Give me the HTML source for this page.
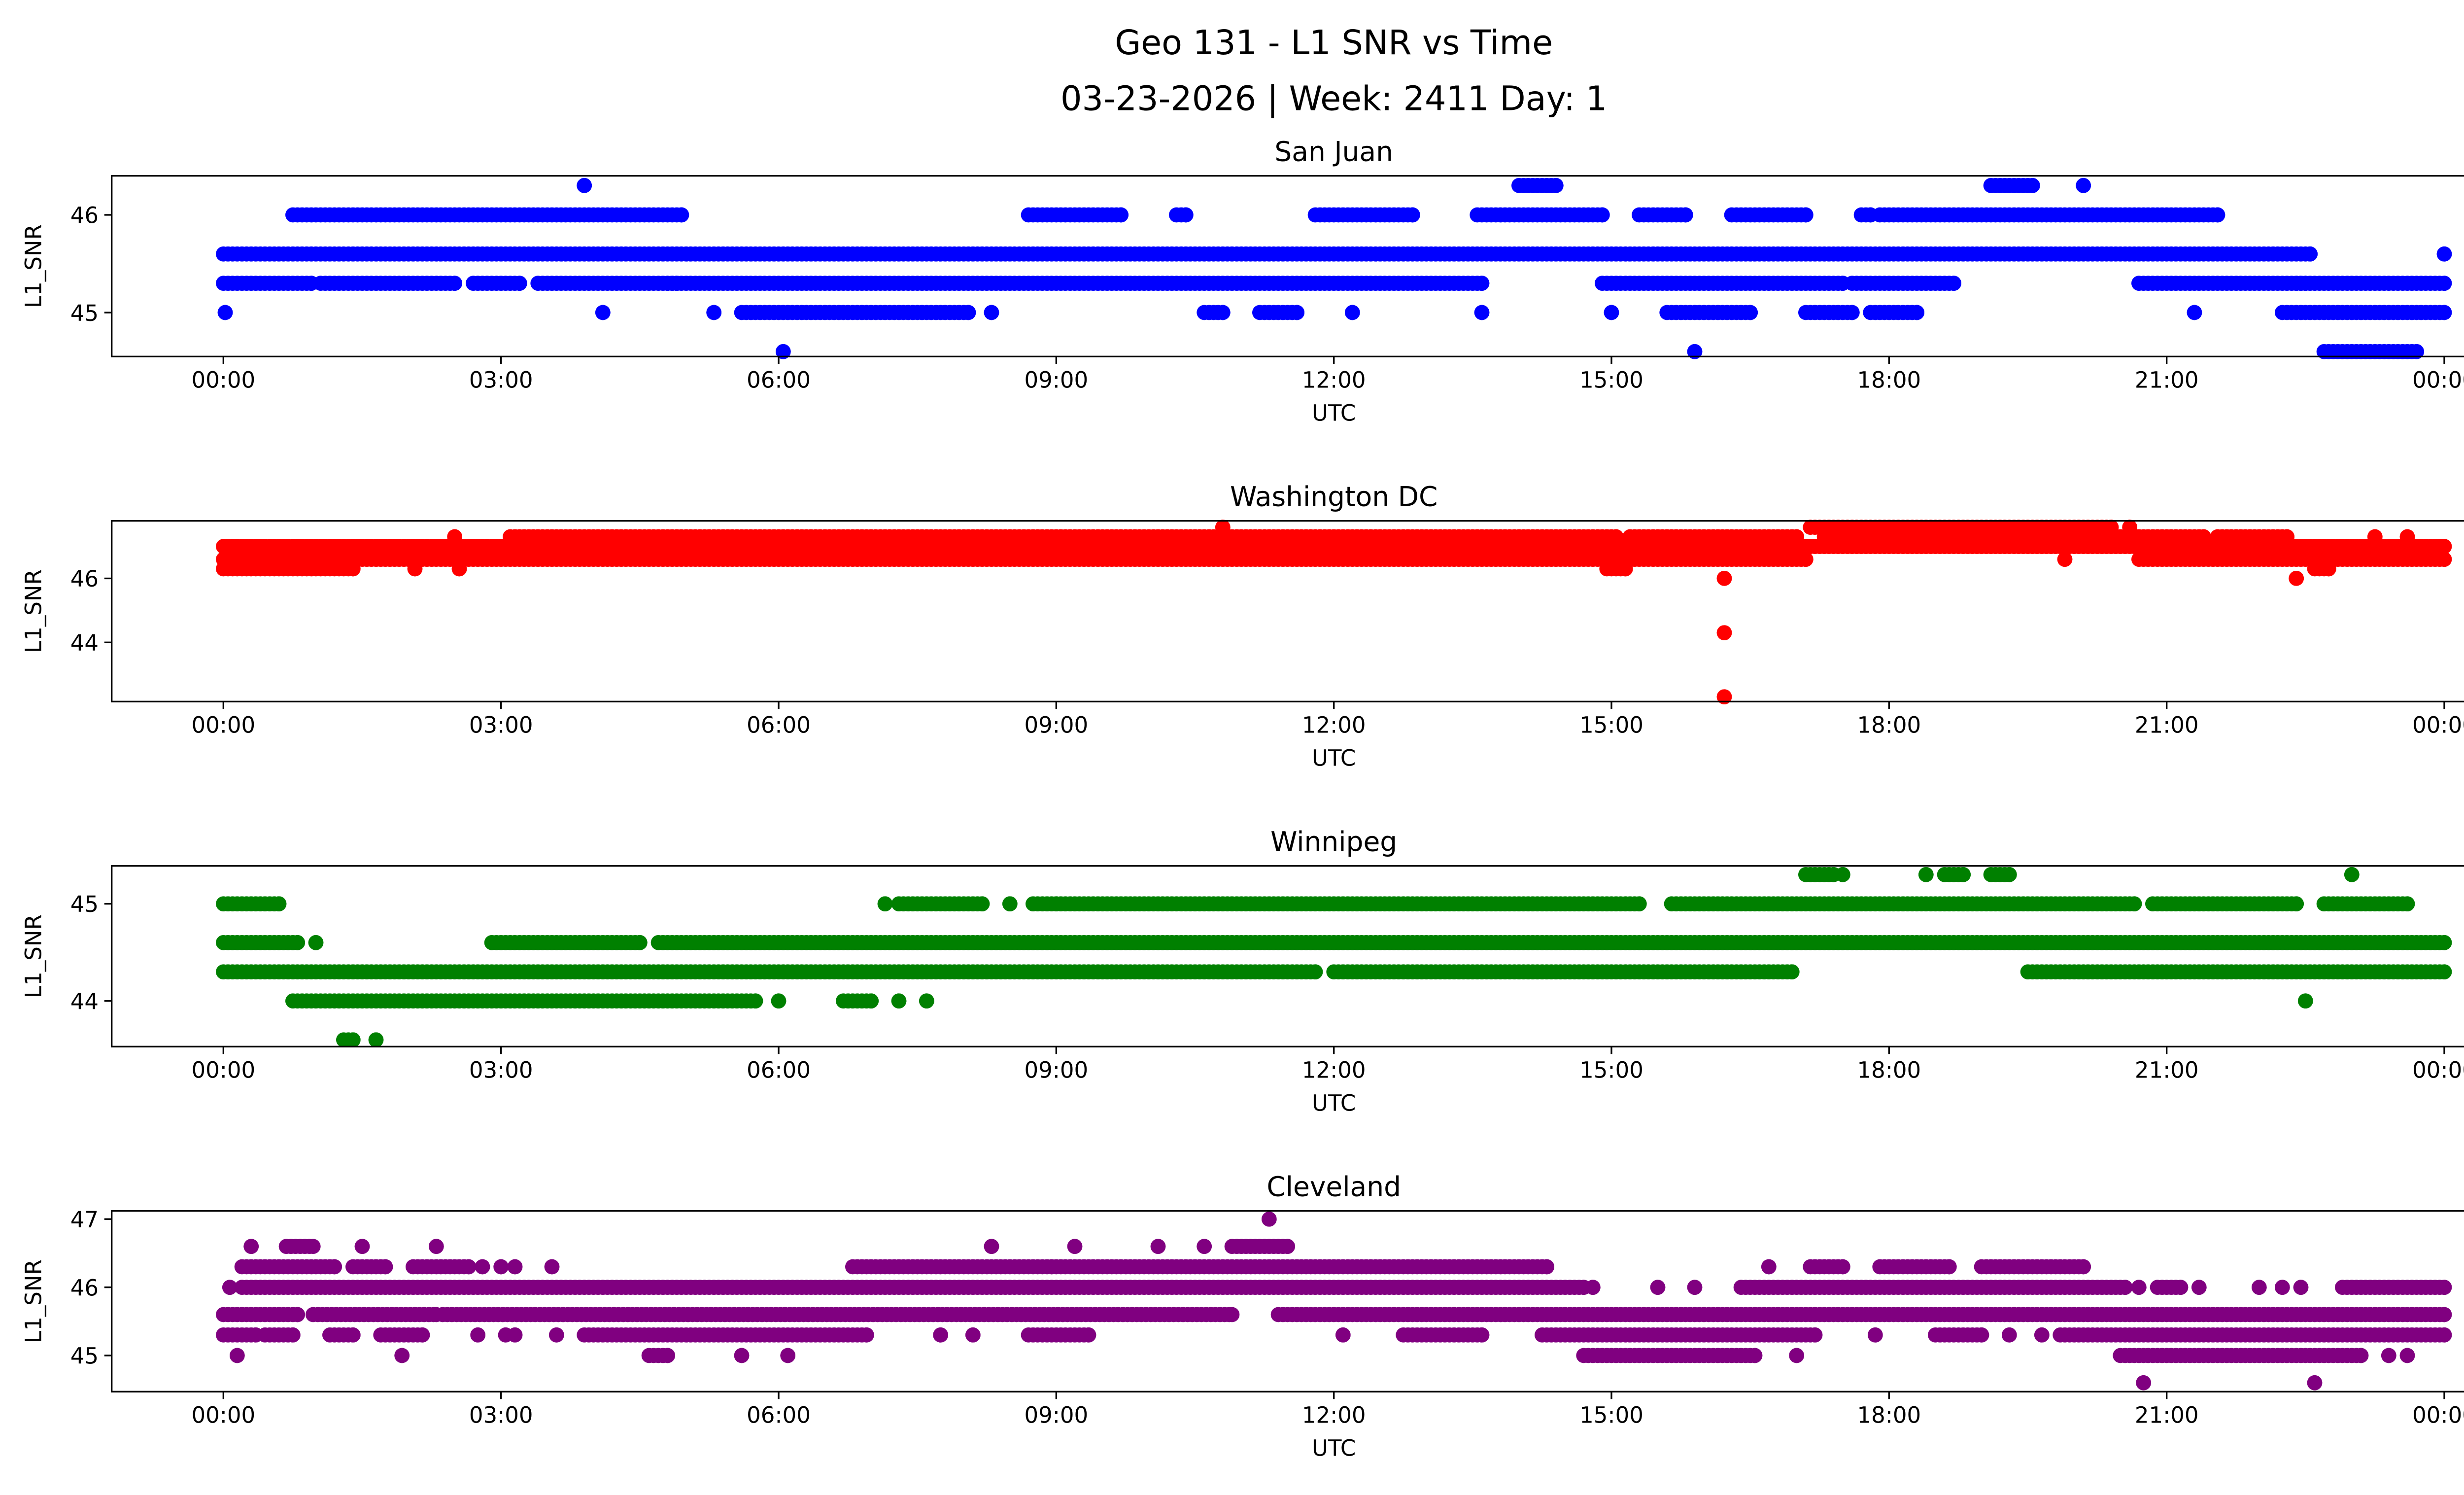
<!DOCTYPE html>
<html><head><meta charset="utf-8"><style>
html,body{margin:0;padding:0;background:#fff;overflow:hidden}
svg{display:block}
text{font-family:"DejaVu Sans","Liberation Sans",sans-serif;fill:#000}
</style></head><body>
<svg id="fig" width="5225" height="3033" viewBox="0 0 1567.5 909.9" xmlns="http://www.w3.org/2000/svg">
<rect width="1567.5" height="909.9" fill="#fff"/>
<text x="812" y="33" font-size="20.5" text-anchor="middle">Geo 131 - L1 SNR vs Time</text>
<text x="812" y="67" font-size="20.5" text-anchor="middle">03-23-2026 | Week: 2411 Day: 1</text>
<g id="plots"></g>
</svg>
<script>
// Runs: [level, startHour, endHour]
const sanJuanRuns = [[45.6,0,22.55],[45.6,24,24],[45.3,0,0.95],[45.3,1.05,2.5],[45.3,2.7,3.2],[45.3,3.4,4.9],[45.3,4.8,13.6],[45.3,14.9,17.5],[45.3,17.6,18.7],[45.3,20.7,22.5],[45.3,22.4,24],
 [46.0,0.75,4.95],[46.0,8.7,9.7],[46.0,10.3,10.4],[46.0,11.8,12.85],[46.0,13.55,14.9],[46.0,15.3,15.8],[46.0,16.3,17.1],[46.0,17.7,17.8],[46.0,17.9,21.55],
 [45.0,0.02,0.02],[45.0,4.1,4.1],[45.0,5.3,5.3],[45.0,5.6,8.05],[45.0,8.3,8.3],[45.0,10.6,10.8],[45.0,11.2,11.6],[45.0,12.2,12.2],[45.0,13.6,13.6],[45.0,15.0,15.0],[45.0,15.6,16.5],[45.0,17.1,17.6],[45.0,17.8,18.3],[45.0,21.3,21.3],[45.0,22.25,24],
 [44.6,6.05,6.05],[44.6,15.9,15.9],[44.6,22.7,23.7],[46.3,3.9,3.9],[46.3,14.0,14.4],[46.3,19.1,19.55],[46.3,20.1,20.1]];
const washingtonRuns = [[47.6,10.8,10.8],[47.6,17.15,20.4],[47.6,20.6,20.6],
 [47.3,2.5,2.5],[47.3,3.1,15.05],[47.3,15.2,17.0],[47.3,17.3,21.4],[47.3,21.55,22.3],[47.3,23.25,23.25],[47.3,23.6,23.6],
 [47.0,0,24],[46.6,0,17.1],[46.6,19.9,19.9],[46.6,20.7,24],
 [46.3,0,1.4],[46.3,2.07,2.07],[46.3,2.55,2.55],[46.3,14.95,15.15],[46.3,22.6,22.75],
 [46.0,16.22,16.22],[46.0,22.4,22.4],[44.3,16.22,16.22],[42.3,16.22,16.22]];
const winnipegRuns = [[45.0,0,0.6],[45.0,7.15,7.15],[45.0,7.3,8.2],[45.0,8.5,8.5],[45.0,8.75,9.0],[45.0,9.05,15.3],[45.0,15.65,20.65],[45.0,20.85,22.4],[45.0,22.7,23.6],
 [44.6,0,0.8],[44.6,1.0,1.0],[44.6,2.9,4.5],[44.6,4.7,24],[44.3,0,11.8],[44.3,12.0,16.95],[44.3,19.5,24],
 [44.0,0.75,5.75],[44.0,6.0,6.0],[44.0,6.7,7.0],[44.0,7.3,7.3],[44.0,7.6,7.6],[44.0,22.5,22.5],[43.6,1.3,1.4],[43.6,1.65,1.65],
 [45.3,17.1,17.4],[45.3,17.5,17.5],[45.3,18.4,18.4],[45.3,18.6,18.8],[45.3,19.1,19.3],[45.3,23.0,23.0]];
const clevelandRuns = [[47.0,11.3,11.3],
 [46.6,0.3,0.3],[46.6,0.68,0.97],[46.6,1.5,1.5],[46.6,2.3,2.3],[46.6,8.3,8.3],[46.6,9.2,9.2],[46.6,10.1,10.1],[46.6,10.6,10.6],[46.6,10.9,11.5],
 [46.3,0.2,1.2],[46.3,1.4,1.75],[46.3,2.05,2.65],[46.3,2.8,2.8],[46.3,3.0,3.0],[46.3,3.15,3.15],[46.3,3.55,3.55],[46.3,6.8,8.95],[46.3,9.0,14.3],[46.3,16.7,16.7],[46.3,17.15,17.5],[46.3,17.9,18.65],[46.3,19.0,20.1],
 [46.0,0.07,0.07],[46.0,0.2,14.7],[46.0,14.8,14.8],[46.0,15.5,15.5],[46.0,15.9,15.9],[46.0,16.4,20.55],[46.0,20.7,20.7],[46.0,20.9,21.15],[46.0,21.35,21.35],[46.0,22.0,22.0],[46.0,22.25,22.25],[46.0,22.45,22.45],[46.0,22.9,24],
 [45.6,0,0.8],[45.6,0.97,2.3],[45.6,2.37,10.9],[45.6,11.4,24],
 [45.3,0,0.35],[45.3,0.45,0.75],[45.3,1.15,1.4],[45.3,1.7,2.15],[45.3,2.75,2.75],[45.3,3.05,3.05],[45.3,3.15,3.15],[45.3,3.6,3.6],[45.3,3.9,6.95],[45.3,7.75,7.75],[45.3,8.1,8.1],[45.3,8.7,9.35],[45.3,12.1,12.1],[45.3,12.75,13.6],[45.3,14.25,17.2],[45.3,17.85,17.85],[45.3,18.5,19.0],[45.3,19.3,19.3],[45.3,19.65,19.65],[45.3,19.85,24],
 [45.0,0.15,0.15],[45.0,1.93,1.93],[45.0,4.6,4.8],[45.0,5.6,5.6],[45.0,6.1,6.1],[45.0,14.7,16.55],[45.0,17.0,17.0],[45.0,20.5,23.1],[45.0,23.4,23.4],[45.0,23.6,23.6],
 [44.6,20.75,20.75],[44.6,22.6,22.6]];

const panels = [
 {name:'San Juan',runs:sanJuanRuns,color:'#0000ff',top:107,ymin:44.55,ymax:46.4,ticks:[45,46]},
 {name:'Washington DC',runs:washingtonRuns,color:'#ff0000',top:317,ymin:42.15,ymax:47.8,ticks:[44,46]},
 {name:'Winnipeg',runs:winnipegRuns,color:'#008000',top:527,ymin:43.53,ymax:45.39,ticks:[44,45]},
 {name:'Cleveland',runs:clevelandRuns,color:'#800080',top:737,ymin:44.47,ymax:47.12,ticks:[45,46,47]}
];
const xTickLabels = ['00:00','03:00','06:00','09:00','12:00','15:00','18:00','21:00','00:00'];
const NS='http://www.w3.org/2000/svg';
const L=68,R=1555,H=110;
const xs=h=>136+h*(1488-136)/24;
function mk(tag,attrs,parent){const e=document.createElementNS(NS,tag);for(const k in attrs)e.setAttribute(k,attrs[k]);parent.appendChild(e);return e;}
const root=document.getElementById('plots');
panels.forEach((p,i)=>{
 const g=mk('g',{},root);
 
 
 const ys=v=>p.top+H-(v-p.ymin)/(p.ymax-p.ymin)*H;
 const t=mk('text',{x:812,y:p.top-9,'font-size':16.5,'text-anchor':'middle'},g);t.textContent=p.name;
 
 
 const cg=mk('g',{fill:p.color},g);
 
 
 p.runs.forEach(r=>{
  const y=ys(r[0]);
  for(let h=r[1];h<=r[2]+1e-9;h+=0.05){mk('circle',{cx:xs(h).toFixed(1),cy:y.toFixed(1),r:4.6},cg);}
  mk('circle',{cx:xs(r[2]).toFixed(1),cy:y.toFixed(1),r:4.6},cg);
 });
 const fr=mk('rect',{x:L,y:p.top,width:R-L,height:H,fill:'none',stroke:'#000','stroke-width':1},g);
 
 
 xTickLabels.forEach((lab,k)=>{
  const x=xs(k*3);
  mk('line',{x1:x,x2:x,y1:p.top+H,y2:p.top+H+4.5,stroke:'#000','stroke-width':1},g);
  const tx=mk('text',{x:x,y:p.top+H+19,'font-size':13.5,'text-anchor':'middle'},g);tx.textContent=lab;
  
  
 });
 p.ticks.forEach(v=>{
  const y=ys(v);
  mk('line',{x1:L-4.5,x2:L,y1:y,y2:y,stroke:'#000','stroke-width':1},g);
  const ty=mk('text',{x:L-8,y:y+5,'font-size':13.5,'text-anchor':'end'},g);ty.textContent=v;
  
  
 });
 const xl=mk('text',{x:812,y:p.top+H+39,'font-size':13.5,'text-anchor':'middle'},g);xl.textContent='UTC';
 
 
 const yl=mk('text',{x:0,y:0,'font-size':13.5,'text-anchor':'middle',transform:`translate(25,${p.top+H/2}) rotate(-90)`},g);yl.textContent='L1_SNR';
 
 
});
</script>
</body></html>
